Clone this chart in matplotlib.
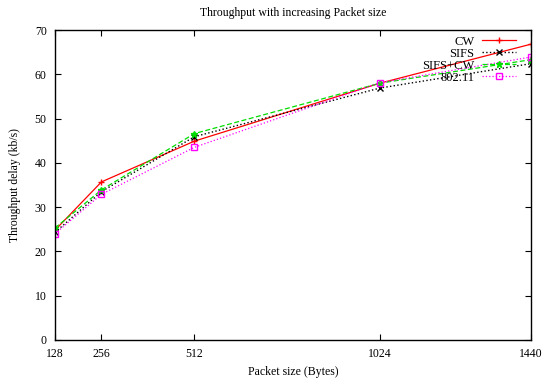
import matplotlib
matplotlib.use('Agg')
import matplotlib.pyplot as plt

# Packet sizes and throughput readings
packet_size = [128, 256, 512, 1024, 1440]
cw = [24.8, 35.7, 44.9, 58.0, 66.8]
sifs = [24.3, 33.5, 45.9, 56.9, 62.4]
sifs_cw = [25.3, 33.9, 46.6, 58.0, 63.3]
dot11 = [24.0, 32.9, 43.5, 58.1, 63.9]
x_ticks = [128, 256, 512, 1024, 1440]
y_ticks = [0, 10, 20, 30, 40, 50, 60, 70]

plt.rcParams['font.family'] = 'Liberation Serif'
plt.rcParams['font.size'] = 8.5

fig = plt.figure(figsize=(5.43, 3.81), dpi=100)
ax = fig.add_axes([55 / 543, 1 - 340 / 381, (531 - 55) / 543, (340 - 30) / 381])

ax.plot(packet_size, cw, color='red', linestyle='-', linewidth=0.9,
        marker='+', markersize=5, label='CW')
ax.plot(packet_size, sifs, color='black', linestyle=':', linewidth=1.0,
        marker='x', markersize=4, label='SIFS')
ax.plot(packet_size, sifs_cw, color='#00dd00', linestyle='--', linewidth=0.9,
        dashes=(4, 2), marker='*', markersize=5, label='SIFS+CW')
ax.plot(packet_size, dot11, color='magenta', linestyle=':', linewidth=0.9,
        marker='s', markersize=4, markerfacecolor='none', label='802.11')

ax.set_xlim(128, 1440)
ax.set_ylim(0, 70)
ax.set_xticks(x_ticks)
ax.set_yticks(y_ticks)
ax.tick_params(direction='in', top=True, right=True, length=4, width=0.8, pad=6)
for s in ax.spines.values():
    s.set_linewidth(1.0)

ax.set_title('Throughput with increasing Packet size', fontsize=8.5, pad=10)
ax.set_xlabel('Packet size (Bytes)', labelpad=4)
ax.set_ylabel('Throughput delay (kb/s)', labelpad=10)

ax.legend(loc='upper right', bbox_to_anchor=(0.974, 0.99), markerfirst=False,
          frameon=False, handlelength=2.7, labelspacing=0.0, borderpad=0.2,
          borderaxespad=0.0, handletextpad=0.64, fontsize=9)

plt.savefig('out.png', dpi=100)
